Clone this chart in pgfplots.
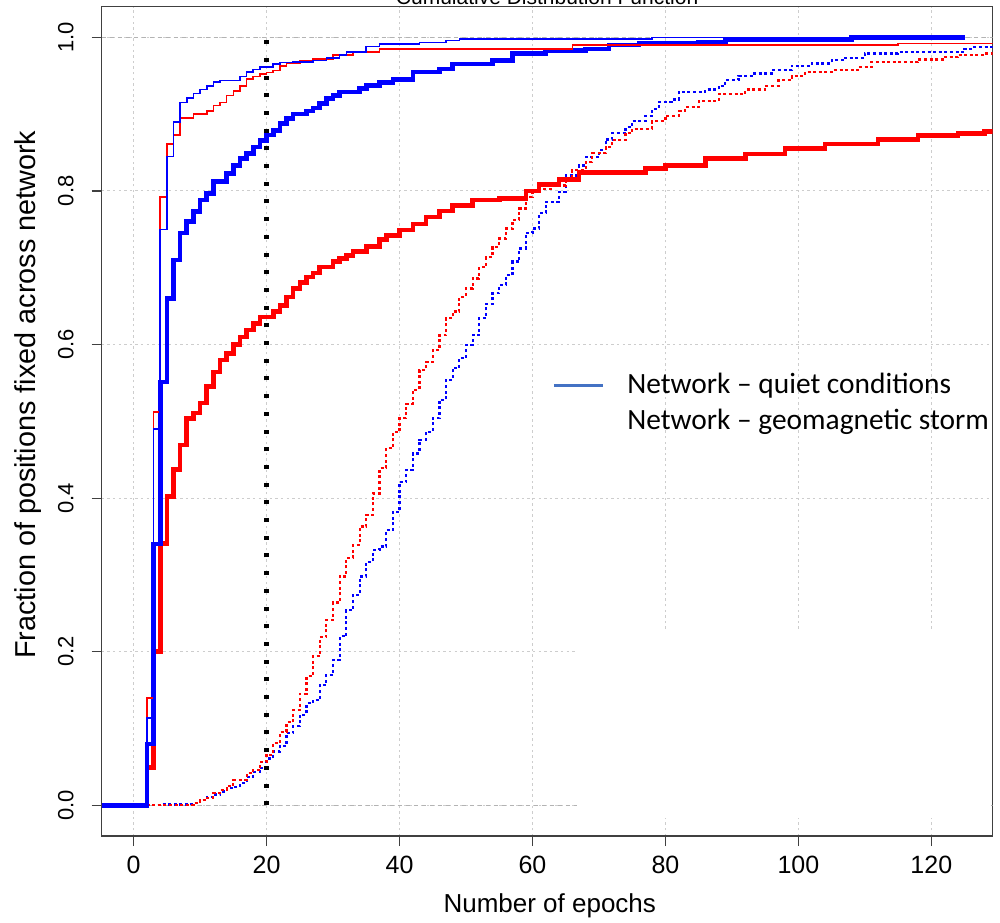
\documentclass[border=0pt]{standalone}
\usepackage{fontspec}
\setmainfont{Liberation Sans}
\newfontfamily\calibri{Carlito}
\usepackage{pgfplots}
\pgfplotsset{compat=1.18}
\definecolor{rblue}{RGB}{0,0,255}
\definecolor{rred}{RGB}{255,0,0}
\definecolor{gridgray}{RGB}{205,205,205}
\definecolor{gray70}{RGB}{179,179,179}
\definecolor{legblue}{RGB}{68,114,196}

\begin{document}
\begin{tikzpicture}
\begin{axis}[
  scale only axis, width=445.4pt, height=414.7pt,
  xmin=-4.8, xmax=129.2, ymin=-0.04, ymax=1.04,
  xtick={0,20,40,60,80,100,120},
  ytick={0,0.2,0.4,0.6,0.8,1},
  axis line style={black!75, line width=0.6pt},
  tick style={black!75, line width=0.6pt},
  tick align=outside, major tick length=5pt,
  xtick pos=bottom, ytick pos=left,
  grid=major,
  major grid style={gridgray, line width=0.5pt, dash pattern=on 1.2pt off 1.6pt},
  /pgf/number format/assume math mode=true,
  yticklabel={\pgfmathprintnumber[fixed,fixed zerofill,precision=1]{\tick}},
  xticklabel style={font=\fontsize{12.5}{14}\selectfont, anchor=center, yshift=-9.5pt},
  yticklabel style={font=\fontsize{11}{12}\selectfont, rotate=90, anchor=center, yshift=12.9pt},
  xlabel={Number of epochs},
  ylabel={Fraction of positions fixed across network},
  xlabel style={font=\fontsize{13}{15}\selectfont, at={(axis description cs:0.503,-0.0844)}, anchor=center},
  ylabel style={font=\fontsize{14.4}{16}\selectfont, at={(axis description cs:-0.0827,0.532)}, anchor=center},
  const plot,
]
% reference lines at 0 and 1
\addplot[gray70, line width=0.5pt, dash pattern=on 2pt off 2pt, sharp plot] coordinates {(-4.8,0) (129.2,0)};
\addplot[gray70, line width=0.5pt, dash pattern=on 2pt off 2pt, sharp plot] coordinates {(-4.8,1) (129.2,1)};
% blank patch behind the legend area (as in the source figure)
\fill[white] (axis cs:66.7,-0.016) rectangle (axis cs:129.0,0.228);

% dotted series
\addplot[rblue, line width=1.1pt, dash pattern=on 1.5pt off 1.3pt] coordinates {
(-4.8,0) (4,0.001) (8,0.002) (9,0.003) (10,0.007) (11,0.011) (12,0.014) (13,0.018) (14,0.023) (15,0.024)
(16,0.029) (17,0.037) (18,0.043) (19,0.049) (20,0.061) (21,0.07) (22,0.077) (23,0.094) (24,0.103) (25,0.118)
(26,0.133) (27,0.137) (28,0.157) (29,0.17) (30,0.189) (31,0.22) (32,0.254) (33,0.274) (34,0.298) (35,0.317)
(36,0.332) (37,0.337) (38,0.358) (39,0.382) (40,0.421) (41,0.437) (42,0.458) (43,0.476) (44,0.486) (45,0.504)
(46,0.528) (47,0.554) (48,0.569) (49,0.582) (50,0.599) (51,0.612) (52,0.634) (53,0.653) (54,0.667) (55,0.677)
(56,0.69) (57,0.708) (58,0.725) (59,0.745) (60,0.751) (61,0.771) (62,0.786) (64,0.799) (65,0.82) (67,0.833)
(68,0.844) (70,0.853) (71,0.867) (72,0.875) (74,0.883) (75,0.891) (77,0.898) (78,0.907) (79,0.916) (81,0.919)
(82,0.929) (86,0.932) (88,0.937) (89,0.944) (91,0.95) (93,0.953) (96,0.957) (99,0.963) (102,0.966) (105,0.97)
(107,0.973) (110,0.979) (115,0.981) (125,0.985) (126,0.987) (130,0.987)};
\addplot[rred, line width=1.1pt, dash pattern=on 1.5pt off 1.3pt] coordinates {
(-4.8,0) (9,0.003) (10,0.007) (11,0.01) (12,0.016) (13,0.02) (14,0.025) (15,0.033) (17,0.042) (18,0.046)
(19,0.056) (20,0.066) (21,0.081) (22,0.095) (23,0.108) (24,0.124) (25,0.145) (26,0.168) (27,0.194) (28,0.219)
(29,0.241) (30,0.264) (31,0.298) (32,0.322) (33,0.339) (34,0.363) (35,0.378) (36,0.406) (37,0.439) (38,0.465)
(39,0.486) (40,0.504) (41,0.523) (42,0.541) (43,0.567) (44,0.577) (45,0.593) (46,0.612) (47,0.634) (48,0.643)
(49,0.662) (50,0.673) (51,0.686) (52,0.701) (53,0.714) (54,0.727) (55,0.738) (56,0.751) (57,0.762) (58,0.777)
(59,0.792) (60,0.799) (61,0.803) (63,0.807) (65,0.816) (66,0.827) (68,0.838) (69,0.849) (71,0.857) (72,0.866)
(74,0.875) (75,0.881) (78,0.891) (80,0.898) (82,0.904) (83,0.909) (85,0.917) (88,0.926) (92,0.932) (95,0.937)
(97,0.944) (99,0.95) (101,0.955) (105,0.957) (109,0.961) (111,0.968) (118,0.971) (122,0.974) (124,0.977)
(128,0.979) (130,0.979)};

% thick series
\addplot[rred, line width=2.3pt] coordinates {
(-4.8,0) (2,0.049) (3,0.2) (4,0.341) (5,0.402) (6,0.437) (7,0.469) (8,0.504) (9,0.511) (10,0.524)
(11,0.545) (12,0.564) (13,0.58) (14,0.588) (15,0.6) (16,0.61) (17,0.619) (18,0.627) (19,0.636) (21,0.643)
(22,0.651) (23,0.662) (24,0.673) (25,0.681) (26,0.688) (27,0.693) (28,0.701) (30,0.708) (31,0.712) (32,0.716)
(33,0.721) (35,0.728) (37,0.737) (38,0.742) (40,0.749) (42,0.757) (44,0.766) (46,0.774) (48,0.781) (51,0.788)
(55,0.79) (59,0.8) (61,0.808) (64,0.815) (67,0.824) (77,0.829) (80,0.833) (86,0.842) (92,0.848) (98,0.855)
(104,0.861) (112,0.867) (118,0.872) (124,0.875) (128,0.877) (130,0.877)};
\addplot[rblue, line width=2.3pt] coordinates {
(-4.8,0) (2,0.08) (3,0.34) (4,0.551) (5,0.66) (6,0.71) (7,0.745) (8,0.76) (9,0.773) (10,0.788)
(11,0.797) (12,0.812) (14,0.823) (15,0.833) (16,0.842) (17,0.849) (18,0.857) (19,0.866) (20,0.873) (21,0.879)
(22,0.888) (23,0.894) (24,0.9) (26,0.904) (27,0.908) (28,0.914) (29,0.92) (30,0.924) (31,0.929) (34,0.933)
(35,0.937) (37,0.941) (39,0.945) (42,0.955) (46,0.959) (48,0.965) (54,0.97) (57,0.979) (62,0.983) (68,0.985)
(71.5,0.99) (76,0.992) (85,0.994) (89,0.997) (108,1.0) (125,1.0)};

% thin series
\addplot[rred, line width=0.8pt] coordinates {
(-4.8,0) (2,0.14) (3,0.512) (4,0.792) (5,0.861) (6,0.873) (7,0.895) (9,0.9) (11,0.904) (12,0.911)
(13,0.915) (14,0.924) (15,0.93) (16,0.937) (17,0.946) (18,0.949) (19,0.952) (20,0.954) (21,0.957) (22,0.963)
(23,0.966) (25,0.97) (27,0.972) (30,0.977) (33,0.981) (37,0.985) (66,0.99) (115,0.992) (130,0.992)};
\addplot[rblue, line width=0.8pt] coordinates {
(-4.8,0) (2,0.114) (3,0.49) (4,0.75) (5,0.845) (6,0.89) (7,0.915) (8,0.921) (9,0.927) (10,0.932)
(11,0.937) (12,0.942) (13,0.944) (16,0.949) (17,0.955) (18,0.958) (19,0.961) (21,0.965) (22,0.967) (24,0.968)
(27,0.97) (29,0.973) (31,0.977) (32,0.981) (35,0.988) (37,0.991) (43,0.993) (47,0.996) (49,0.998) (78,1.0)
(125,1.0)};

% threshold at 20 epochs
\addplot[black, line width=2.2pt, dash pattern=on 2pt off 6.85pt, sharp plot] coordinates {(20,0) (20,1)};

% hand-made legend sample line
\draw[legblue, line width=1.3pt] (axis cs:63.2,0.547) -- (axis cs:70.6,0.547);

\coordinate (sw) at (rel axis cs:0,0);
\coordinate (ne) at (rel axis cs:1,1);
\coordinate (tt) at (rel axis cs:0.5,1);
\coordinate (l1) at (axis cs:74.2,0.547);
\coordinate (l2) at (axis cs:74.2,0.499);
\end{axis}

% title, mostly cut off at the top of the figure
\node[anchor=base, font=\fontsize{10.5}{12}\selectfont] at ([yshift=1pt]tt) {Cumulative Distribution Function};
\node[anchor=west, font=\calibri\fontsize{14.7}{17}\selectfont, inner sep=0pt] at (l1) {Network – quiet conditions};
\node[anchor=west, font=\calibri\fontsize{14.7}{17}\selectfont, inner sep=0pt] at (l2) {Network – geomagnetic storm};

\pgfresetboundingbox
\path[use as bounding box] ([shift={(-50.85pt,-43pt)}]sw) rectangle ([shift={(3.75pt,3.3pt)}]ne);
\end{tikzpicture}
\end{document}
